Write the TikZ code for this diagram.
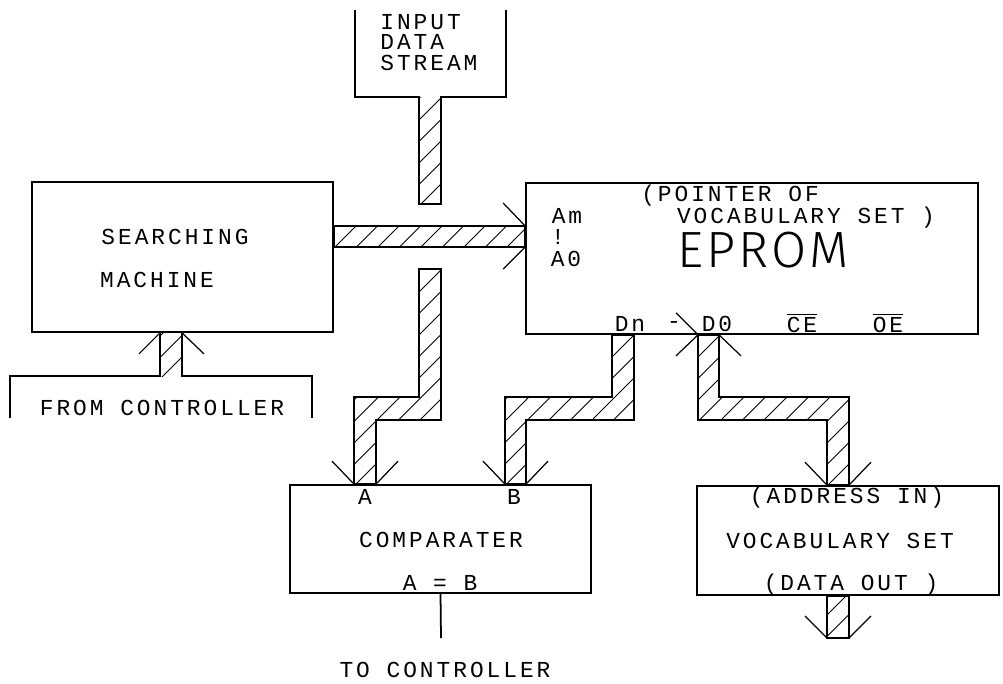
\documentclass[tikz,border=0pt]{standalone}
\usepackage{fontspec}
\usepackage{tikz}
\usetikzlibrary{arrows.meta,calc}
\newfontfamily\plotfont{Liberation Mono}[LetterSpace=13]
\newfontfamily\bigfont{Fira Sans Light}[LetterSpace=6]
\tikzset{
  every node/.style={font=\plotfont\fontsize{13}{11.6}\selectfont,inner sep=0pt},
  blockbox/.style={draw,line width=1pt,fill=none,minimum width=#1},
  busline/.style={line width=1pt},
  hatchline/.style={line width=0.55pt},
  barb/.style={line width=0.7pt}
}
\newcommand{\hatchfill}[1]{%
  \begin{scope}
    \clip #1;
    \foreach \k in {0,...,75}
      \draw[hatchline] ({1.5+21.5*\k},0)--({1.5+21.5*\k-700},700);
  \end{scope}}
\newcommand{\busdraw}[1]{\hatchfill{#1}\draw[busline] #1;}

\begin{document}
\begin{tikzpicture}[x=0.02cm,y=-0.02cm,>=Stealth]
  \useasboundingbox (0,0) rectangle (1003,683);
  % blocks
  \node[blockbox=6.02cm,minimum height=3cm] (search) at (182.5,257) {};
  \node[blockbox=9.04cm,minimum height=3.02cm] (eprom) at (752,258.5) {};
  \node[blockbox=6.02cm,minimum height=2.16cm] (comp) at (440.5,539) {};
  \node[blockbox=6.04cm,minimum height=2.18cm] (vocab) at (848,540.5) {};
  % input stream
  \node[anchor=north west,align=left] (input) at (380,14) {INPUT\\DATA\\STREAM};
  \hatchfill{(419,97) rectangle (441,204)}
  \draw[busline] (355,10)--(355,97)--(419,97)--(419,204)--(441,204)--(441,97)--(506,97)--(506,10);
  % from controller
  \node (from) at (162,408) {FROM CONTROLLER};
  \hatchfill{(160,376) rectangle (search.south -| 182,0)}
  \draw[busline] (10,418)--(10,376)--(160,376)--(search.south -| 160,0);
  \draw[busline] (312,418)--(312,376)--(182,376)--(search.south -| 182,0);
  \draw[barb] (search.south -| 160,0)--++(-21,21);
  \draw[barb] (search.south -| 182,0)--++(22,21);
  % address bus
  \busdraw{(search.east |- 0,226) rectangle (eprom.west |- 0,247)}
  \draw[barb] (eprom.west |- 0,226)--++(-22,-23);
  \draw[barb] (eprom.west |- 0,247)--++(-22,22);
  % bus to comparater A
  \busdraw{(419,269)--(441,269)--(441,420)--(376,420)--(comp.north -| 376,0)--(comp.north -| 354,0)--(354,397)--(419,397)--cycle}
  \draw[barb] (comp.north -| 354,0)--++(-22,-23);
  \draw[barb] (comp.north -| 376,0)--++(22,-23);
  % bus to comparater B
  \busdraw{(eprom.south -| 612,0)--(eprom.south -| 634,0)--(634,420)--(526,420)--(comp.north -| 526,0)--(comp.north -| 505,0)--(505,397)--(612,397)--cycle}
  \draw[barb] (comp.north -| 505,0)--++(-22,-23);
  \draw[barb] (comp.north -| 526,0)--++(22,-23);
  % bus to vocabulary set
  \busdraw{(eprom.south -| 698,0)--(eprom.south -| 719,0)--(719,397)--(849,397)--(vocab.north -| 849,0)--(vocab.north -| 827,0)--(827,420)--(698,420)--cycle}
  \draw[barb] (eprom.south -| 698,0)--++(-22,-22);
  \draw[barb] (eprom.south -| 698,0)--++(-22,21);
  \draw[barb] (eprom.south -| 719,0)--++(22,21);
  \draw[barb] (vocab.north -| 827,0)--++(-22,-23);
  \draw[barb] (vocab.north -| 849,0)--++(22,-23);
  % data out
  \busdraw{(vocab.south -| 827,0) rectangle (849,638)}
  \draw[barb] (827,638)--++(-22,-22);
  \draw[barb] (849,638)--++(22,-22);
  % comparater output
  \coordinate (toctl) at (441,638);
  \draw[busline] (comp.south)--(toctl);
  % labels
  \node (l1) at (175,237) {SEARCHING};
  \node (l2) at (157,280) {MACHINE};
  \node (l3) at (730,196) {(POINTER OF};
  \node (l4) at (806,218) {VOCABULARY SET )};
  \node (l5) at (763,250) {\bigfont\fontsize{29}{29}\selectfont EPROM};
  \node (l6) at (567,216) {Am};
  \node (l7) at (558,237) {!};
  \node (l8) at (566,259) {A0};
  \node (l9) at (630,324) {Dn};
  \node (l10) at (674,325) {-};
  \node (l11) at (717,324) {D0};
  \node (l12) at (802,323) {$\overline{\mbox{CE}}$};
  \node (l13) at (888,323) {$\overline{\mbox{OE}}$};
  \node (l14) at (365,497) {A};
  \node (l15) at (514,497) {B};
  \node (l16) at (441,540) {COMPARATER};
  \node (l17) at (440,583) {A = B};
  \node (l18) at (445,670) {TO CONTROLLER};
  \node (l19) at (847,498) {(ADDRESS IN)};
  \node (l20) at (840,541) {VOCABULARY SET};
  \node (l21) at (851,585) {(DATA OUT )};
\end{tikzpicture}
\end{document}
